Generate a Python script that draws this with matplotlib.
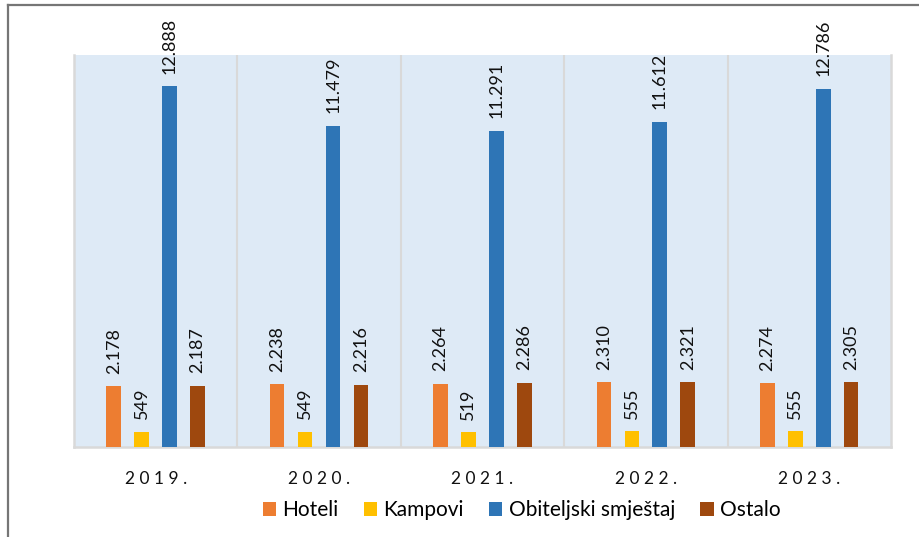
import matplotlib
matplotlib.use("Agg")
import matplotlib.pyplot as plt
from matplotlib.lines import Line2D
import numpy as np

plt.rcParams["font.family"] = ["Lato", "DejaVu Sans"]

years = ["2019.", "2020.", "2021.", "2022.", "2023."]
series = ["Hoteli", "Kampovi", "Obiteljski smještaj", "Ostalo"]
hoteli = [2178, 2238, 2264, 2310, 2274]
kampovi = [549, 549, 519, 555, 555]
obiteljski = [12888, 11479, 11291, 11612, 12786]
ostalo = [2187, 2216, 2286, 2321, 2305]
colors = ["#ED7D31", "#FFC000", "#2E75B6", "#9E480E"]


def fmt(v):
    # thousands separator is a dot
    return "{:,}".format(v).replace(",", ".")


fig = plt.figure(figsize=(9.2, 5.37), dpi=100)
ax = fig.add_axes([0.0804, 0.1676, 0.8880, 0.7300])
ax.set_facecolor("#DEEAF6")

x = np.arange(len(years))
step = 0.171
width = 0.09
for i, (name, vals) in enumerate(zip(series, [hoteli, kampovi, obiteljski, ostalo])):
    pos = x + (i - 1.5) * step
    bars = ax.bar(pos, vals, width, color=colors[i], label=name, zorder=3)
    for b, v in zip(bars, vals):
        ax.annotate(fmt(v), (b.get_x() + b.get_width() / 2, v),
                    xytext=(0, 9), textcoords="offset points",
                    rotation=90, ha="center", va="bottom",
                    fontsize=13, color="#111111")

ax.set_xlim(-0.5, len(years) - 0.5)
ax.set_ylim(0, 14000)
ax.set_yticks([])
ax.set_xticks(x)
ax.set_xticklabels([" ".join(y) for y in years], fontsize=12.5, color="#111111")
ax.tick_params(axis="x", length=0, pad=17)

for b in np.arange(0.5, len(years) - 0.5, 1):
    ax.axvline(b, color="#D9D9D9", lw=1.5, zorder=2)
ax.spines["top"].set_visible(False)
for s in ["left", "right", "bottom"]:
    ax.spines[s].set_color("#D9D9D9")
    ax.spines[s].set_linewidth(1.8)

fig.legend(loc="center", bbox_to_anchor=(0.567, 0.05), ncol=4, frameon=False,
           fontsize=15, handlelength=0.65, handleheight=0.65, handletextpad=0.3,
           columnspacing=1.2)

# outer frame lines (left and top only)
fig.add_artist(Line2D([0.0092, 0.0092], [0, 0.991], transform=fig.transFigure,
                      color="#767676", lw=1.6))
fig.add_artist(Line2D([0.0092, 1.0], [0.991, 0.991], transform=fig.transFigure,
                      color="#767676", lw=1.6))

fig.savefig("out.png", dpi=100)
